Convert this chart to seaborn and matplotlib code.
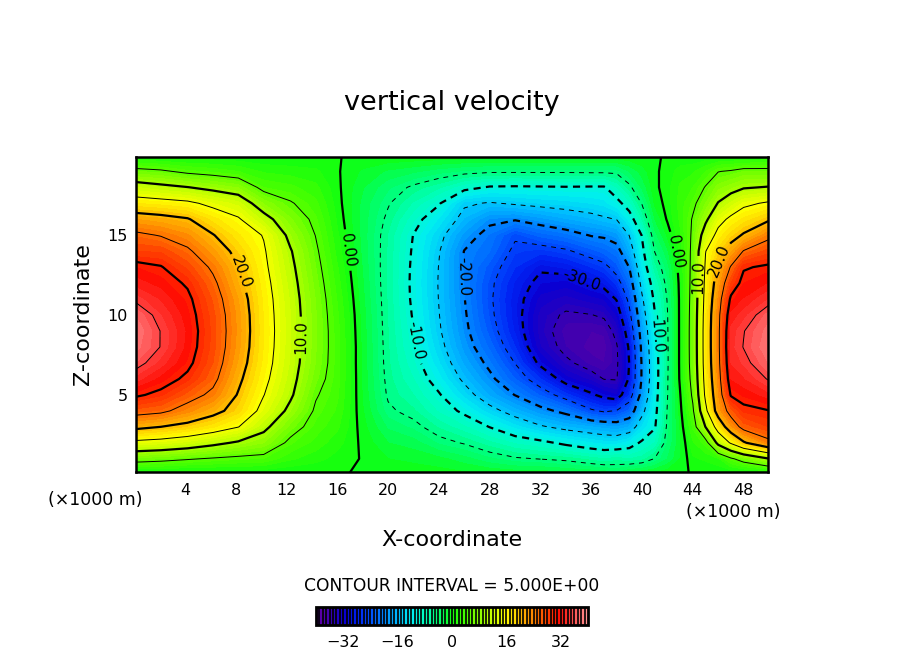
import numpy as np
import matplotlib
matplotlib.use("Agg")
import matplotlib.pyplot as plt
from matplotlib.colors import ListedColormap
from matplotlib.ticker import MultipleLocator
import seaborn as sns

# grid nodes (km) and vertical velocity, one list per x column
x_km = [0.1, 2.1, 4.2, 6.2, 8.2, 10.2, 12.3, 14.3, 16, 18, 20, 22, 24, 26, 28, 30,
        32, 34, 36, 37, 38, 39, 40, 41, 42, 43, 44, 45, 46, 47, 48, 49.95]
z_km = [0.15, 1, 2, 3, 4, 5, 6, 7, 8, 9, 10, 11, 12, 13, 14, 15, 16, 17, 18, 19, 19.9]

w_by_column = [
    [0.5, 6.5, 14, 21, 26.5, 30.5, 33.5, 36, 37.5, 38, 37, 34.5, 32.5, 31, 28, 25.8, 22, 17, 12, 6, 1],
    [0.5, 6, 13.5, 20, 25.8, 29.2, 31.5, 33.5, 34.9, 34.9, 34, 32.8, 31.5, 30.2, 27.8, 24.8, 21.3, 16.5, 11, 5.5, 0.5],
    [0.3, 5.3, 12.5, 18.8, 23.5, 26.5, 29.3, 30.8, 31.5, 31.7, 31.3, 30.7, 29.6, 27.7, 25.6, 23.2, 20.3, 15.8, 10.1, 4.3, 0.3],
    [0.3, 4.7, 11, 17.2, 21.2, 24.2, 26, 27, 27.5, 27.6, 27.4, 26.8, 25.8, 24.4, 22.4, 20.2, 17.5, 14, 9, 3.7, 0.3],
    [0.3, 4.2, 9.5, 15.1, 18.5, 19.7, 20.8, 21.8, 22.4, 22.6, 22.5, 22, 21, 20.2, 18.8, 17.2, 15.4, 12.5, 7.8, 3, 0.2],
    [0.2, 3.9, 8, 11, 13.7, 15.1, 16, 16.6, 16.9, 17, 16.9, 16.7, 16.3, 15.8, 15.4, 14.8, 11.5, 7.8, 4, 1.8, 0.1],
    [0.1, 2.2, 4.2, 6.5, 9, 10.6, 11.3, 11.8, 12, 12.1, 12, 11.8, 11.4, 10.9, 10.3, 9, 7.2, 5.3, 3.3, 1.5, 0.1],
    [0.05, 1.4, 2.6, 3.6, 4.5, 5.3, 6.3, 6.9, 7.1, 7.2, 7.1, 6.9, 6.5, 6, 5.5, 4.9, 4.2, 3.3, 2.3, 1.2, 0.1],
    [0.05, 0.6, 1.4, 2.2, 2.8, 3.2, 3.4, 3.5, 3.5, 3.4, 3.2, 2.9, 2.5, 2.1, 1.6, 1.2, 0.8, 0.5, 0.3, 0.15, 0.02],
    [-0.05, -0.1, -0.3, -0.6, -0.9, -1.1, -1.2, -1.3, -1.3, -1.4, -1.5, -1.7, -1.9, -2.1, -2.3, -2.4, -2.4, -2.3, -1.9, -1.2, -0.1],
    [-0.3, -1, -2, -3.2, -4.6, -5.3, -5.6, -5.8, -5.9, -6, -6.1, -6.2, -6.3, -6.3, -6.2, -6.1, -5.5, -4.8, -3.8, -2.2, -0.2],
    [-0.4, -1.3, -2.5, -4.3, -5.8, -7, -8, -8.8, -9.5, -9.9, -10.3, -10.6, -10.7, -10.6, -10.4, -10.1, -8.8, -7.2, -5.4, -2.8, -0.3],
    [-0.6, -1.7, -4.2, -6.2, -8.2, -9.7, -11.5, -12.9, -13.9, -14.6, -14.9, -15.1, -15.2, -15.1, -14.8, -14, -12.2, -9.7, -6.8, -3.6, -0.4],
    [-0.9, -2.6, -5.2, -7.8, -10.7, -13.5, -15.7, -17.3, -18.5, -19.2, -19.6, -19.9, -20.1, -20.3, -20.1, -18.5, -16.2, -14.5, -9, -4.2, -0.5],
    [-1.2, -3.8, -6.7, -10.1, -13.8, -17.2, -19.2, -20.8, -22.3, -23.5, -24.2, -24.5, -24.3, -23.5, -22, -21.2, -19.2, -15.3, -10.3, -4.6, -0.5],
    [-1.5, -4.7, -8.2, -12.5, -16.5, -20.1, -23, -25.1, -27, -28.2, -28.7, -28.7, -28.2, -27, -25.8, -24.5, -19.7, -14.6, -10.4, -4.6, -0.5],
    [-1.5, -5.1, -9.2, -14.6, -18.9, -23.2, -27, -30.8, -33, -33.7, -33.5, -32.5, -31, -29.5, -26.5, -22.6, -18.5, -14, -10.3, -4.6, -0.5],
    [-2, -5.5, -10.7, -16, -21, -26.5, -31.5, -34.3, -36, -36.5, -35.5, -33.5, -31.5, -28.8, -25.5, -21.5, -17.2, -13.6, -10.2, -4.6, -0.5],
    [-2.3, -6.5, -12, -17, -24.5, -29.5, -33.5, -36.5, -37.5, -37, -35.1, -32.5, -29.8, -27, -23.5, -19.8, -16.2, -13, -10.3, -4.5, -0.5],
    [-2.5, -7, -12.5, -17.5, -25.5, -31, -35.1, -37, -37.5, -36.8, -34.5, -32, -29, -26, -22.5, -19.5, -15.5, -12.5, -10.3, -4.5, -0.5],
    [-3, -6.5, -12.5, -18, -24.8, -32, -35.2, -35.5, -35.3, -34, -32, -29.8, -26.5, -23.5, -21.3, -18.5, -14.9, -11, -8, -4.5, -0.5],
    [-2, -7, -11.5, -17, -22.5, -27, -29.5, -29.9, -29.5, -28, -26, -24, -22, -19.9, -17, -14.9, -11.5, -8.5, -5.5, -3, -0.3],
    [-1.5, -6.5, -9.5, -13, -16, -18.5, -19.5, -19.5, -19, -18, -16.8, -15.5, -13.8, -12, -10.8, -9.8, -7, -4.8, -2.8, -1.5, -0.2],
    [-1, -4.9, -8, -10.3, -11, -11.5, -11.8, -11.8, -11.5, -11, -10.2, -9.3, -8.2, -6.5, -4.9, -3.5, -2, -0.8, -0.3, -0.2, -0.05],
    [-0.5, -3, -4, -4.5, -4.8, -5.1, -5.2, -5.3, -5.3, -5.2, -5.1, -4.8, -4.2, -3.5, -2.2, -0.8, 0.2, 0.5, 0.6, 0.4, 0.05],
    [-0.1, -1.0, -1.2, -0.9, -0.5, -0.1, 0.4, 0.5, 0.5, 0.5, 0.5, 0.5, 0.6, 0.9, 1.3, 1.8, 2.2, 2.4, 2.2, 1.5, 0.2],
    [0.05, 0.8, 1.8, 3.2, 4.5, 5.6, 6.3, 6.7, 6.8, 6.8, 6.7, 6.5, 6.3, 6.1, 5.9, 5.6, 5.3, 4.3, 3, 1.8, 0.2],
    [0.1, 1.2, 3.5, 10.1, 14, 15.8, 16.5, 16.9, 17, 17, 16.8, 16.4, 16, 15.5, 14.9, 12.2, 9.2, 7, 5.2, 3, 0.3],
    [0.2, 1.8, 11.2, 17, 22, 22.8, 23.5, 24, 24.2, 24.2, 24, 23.2, 22, 20.6, 18.5, 16.2, 13.7, 10.2, 7.5, 4.9, 0.5],
    [0.3, 4.5, 15.5, 22.6, 26.5, 30.3, 32, 33, 33.5, 33.3, 32.3, 30.6, 28, 25.3, 21.7, 18.5, 15.8, 12.3, 8.6, 5.3, 0.6],
    [0.5, 6.5, 19.5, 26.3, 29.2, 31.2, 32.8, 34.2, 35.1, 34.9, 33.5, 32, 31, 29.7, 25.2, 20.4, 17.3, 14.2, 9.7, 6, 0.8],
    [1, 9.8, 24, 28, 29.9, 32.5, 35.2, 37, 38, 37.5, 36.5, 34, 32, 30.5, 27.5, 24, 19.5, 15.5, 10.2, 6, 1],
]

fill_levels = np.arange(-40, 41, 1)
thin_levels = [-35, -25, -15, -5, 5, 15, 25, 35]
thick_levels = [-30, -20, -10, 0, 10, 20, 30]
x_ticks = [4, 8, 12, 16, 20, 24, 28, 32, 36, 40, 44, 48]
z_ticks = [5, 10, 15]
cbar_ticks = [-32, -16, 0, 16, 32]

# rainbow from purple (-40) through green (0) to pink (+40), one anchor every 4 units
anchor_colors = ["#6200a4", "#3400b4", "#0800d4", "#0024f4", "#0056ff", "#0088ff",
                 "#00bcff", "#00eef0", "#00ffbc", "#00ff70", "#10ff10", "#48ff00",
                 "#88ff00", "#c8ff00", "#ffff00", "#ffc400", "#ff8800", "#ff4800",
                 "#ff0c00", "#ff4848", "#ff9090"]

sns.set_style("ticks")
plt.rcParams["font.family"] = ["DejaVu Sans"]
plt.rcParams["text.color"] = "black"
plt.rcParams["axes.labelcolor"] = "black"
plt.rcParams["xtick.color"] = "black"
plt.rcParams["ytick.color"] = "black"

cmap = ListedColormap(sns.blend_palette(anchor_colors, n_colors=80))
W = np.array(w_by_column).T

fig = plt.figure(figsize=(9.04, 6.54), dpi=100)
ax = fig.add_axes([136 / 904, 1 - 472 / 654, 632 / 904, 315 / 654])

cf = ax.contourf(x_km, z_km, W, levels=fill_levels, cmap=cmap, vmin=-40, vmax=40)

# odd multiples of 5: thin, multiples of 10: thick and labelled; negatives dashed
thin_styles = [(0, (5, 5)) if lv < 0 else "solid" for lv in thin_levels]
thick_styles = [(0, (3.2, 2.4)) if lv < 0 else "solid" for lv in thick_levels]
ax.contour(x_km, z_km, W, levels=thin_levels, colors="k", linewidths=0.7,
           linestyles=thin_styles)
cs = ax.contour(x_km, z_km, W, levels=thick_levels, colors="k", linewidths=1.6,
                linestyles=thick_styles)


def label_text(v):
    return "0.00" if v == 0 else f"{v:.1f}"


label_spots = [(8.1, 12.6), (12.9, 8.6), (17.1, 14.1), (22.3, 8.4), (25.9, 12.4),
               (35.1, 12.0), (42.2, 13.9), (41.3, 8.85), (44.2, 12.4), (46.0, 13.4)]
ax.clabel(cs, fmt=label_text, fontsize=11, inline=True, inline_spacing=4,
          manual=label_spots, colors="k")

ax.set_xlim(0.14, 49.92)
ax.set_ylim(0.17, 19.9)
ax.set_xticks(x_ticks)
ax.set_yticks(z_ticks)
ax.xaxis.set_minor_locator(MultipleLocator(2))
ax.yaxis.set_minor_locator(MultipleLocator(1))
ax.tick_params(which="both", direction="in", top=True, right=True, width=1.5,
               labelsize=11.5, color="k", labelcolor="k")
ax.tick_params(which="major", length=9)
ax.tick_params(which="minor", length=5)
ax.tick_params(axis="x", pad=8)
ax.tick_params(axis="y", pad=6)
for sp in ax.spines.values():
    sp.set_linewidth(1.8)
    sp.set_color("k")

ax.set_xlabel("X-coordinate", fontsize=16)
ax.xaxis.set_label_coords(0.5, (472 - 540) / 315)
ax.xaxis.label.set_va("center")
ax.set_ylabel("Z-coordinate", fontsize=16)
ax.yaxis.set_label_coords((83 - 136) / 632, 0.5)
ax.yaxis.label.set_va("center")

fig.text(0.5, 1 - 103 / 654, "vertical velocity", ha="center", va="center", fontsize=19.5)
fig.text(95 / 904, 1 - 500 / 654, "(×1000 m)", ha="center", va="center", fontsize=12.5)
fig.text(733 / 904, 1 - 512 / 654, "(×1000 m)", ha="center", va="center", fontsize=12.5)
fig.text(0.5, 1 - 586 / 654, "CONTOUR INTERVAL = 5.000E+00", ha="center",
         va="center", fontsize=12.3)

cax = fig.add_axes([316 / 904, 1 - 625 / 654, 272 / 904, 18 / 654])
cb = fig.colorbar(cf, cax=cax, orientation="horizontal", drawedges=True, ticks=cbar_ticks)
cb.dividers.set_color("k")
cb.dividers.set_linewidth(1.2)
cb.outline.set_linewidth(2)
cb.outline.set_edgecolor("k")
cb.ax.tick_params(length=0, labelsize=11.5, pad=7, labelcolor="k")

fig.savefig("out.png", dpi=100, facecolor="white")
